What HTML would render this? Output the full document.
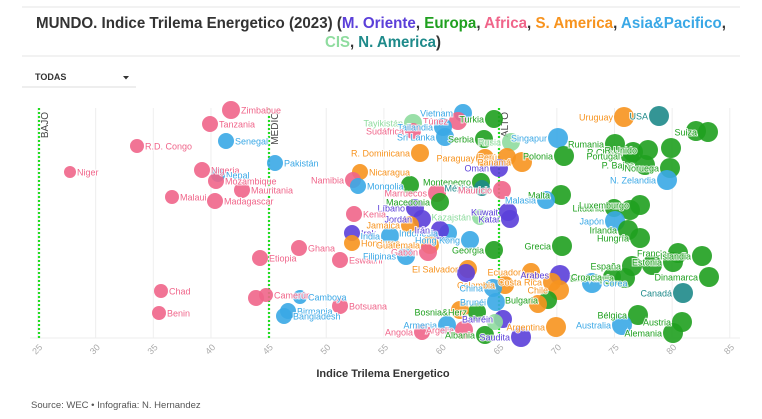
<!DOCTYPE html>
<html><head><meta charset="utf-8">
<style>
body{margin:0;background:#fff;width:762px;height:419px;overflow:hidden;font-family:"Liberation Sans",sans-serif}
svg{position:absolute;left:0;top:0}
</style></head><body>
<svg id="s" width="762" height="419" xmlns="http://www.w3.org/2000/svg" font-family="Liberation Sans, sans-serif">
<line x1="22" y1="7" x2="740" y2="7" stroke="#e6e6e6"/>
<line x1="22" y1="56" x2="740" y2="56" stroke="#e6e6e6"/>
<text x="381" y="28" text-anchor="middle" font-size="16" font-weight="bold" fill="#333" textLength="690" lengthAdjust="spacingAndGlyphs">MUNDO. Indice Trilema Energetico (2023) (<tspan fill="#5b3fd9">M. Oriente</tspan>, <tspan fill="#1fa01f">Europa</tspan>, <tspan fill="#f0658a">Africa</tspan>, <tspan fill="#f7931e">S. America</tspan>, <tspan fill="#3aa8e6">Asia&amp;Pacifico</tspan>,</text>
<text x="383" y="47" text-anchor="middle" font-size="16" font-weight="bold" fill="#333" textLength="116" lengthAdjust="spacingAndGlyphs"><tspan fill="#8fdc9f">CIS</tspan>, <tspan fill="#1e8a8a">N. America</tspan>)</text>
<text x="35" y="80" font-size="9" font-weight="bold" fill="#333">TODAS</text>
<path d="M123 76 h6 l-3 3.5z" fill="#333"/>
<line x1="22" y1="87" x2="136" y2="87" stroke="#ddd"/>
<g id="grid"></g>
<g id="pts"></g>
<text x="383" y="377" text-anchor="middle" font-size="11" font-weight="bold" fill="#333">Indice Trilema Energetico</text>
<text x="31" y="408" font-size="9.5" fill="#555">Source: WEC • Infografia: N. Hernandez</text>
</svg>
<script>
var NS="http://www.w3.org/2000/svg";
function el(t,a,p,txt){var e=document.createElementNS(NS,t);for(var k in a)e.setAttribute(k,a[k]);if(txt)e.textContent=txt;p.appendChild(e);return e;}
var g=document.getElementById('grid');
for(var v=25;v<=85;v+=5){var x=38+(v-25)*11.53;
 el('line',{x1:x,y1:108,x2:x,y2:338,stroke:'#eee'},g);
 el('text',{x:x,y:352,'font-size':9,fill:'#aaa','text-anchor':'middle',transform:'rotate(-45 '+x+' 350)'},g,String(v));}
el('line',{x1:30,y1:338,x2:740,y2:338,stroke:'#eee'},g);
[[39,'BAJO'],[269,'MEDIO'],[499,'ALTO']].forEach(function(d){
 el('line',{x1:d[0],y1:108,x2:d[0],y2:338,stroke:'#22dd22','stroke-width':2.2,'stroke-dasharray':'2,2'},g);
 el('text',{x:d[0]+9,y:112,'font-size':10,fill:'#444','text-anchor':'end',transform:'rotate(-90 '+(d[0]+9)+' 112)'},g,d[1]);});
var C={O:'#5b3fd9',E:'#1fa01f',A:'#f0658a',S:'#f7931e',P:'#3aa8e6',C:'#8fdc9f',N:'#1e8a8a'};
var D=[
[231,110,'A','Zimbabue','r',8],[210,124,'A','Tanzania','r',7],[226,141,'P','Senegal','r',7],[137,146,'A','R.D. Congo','r',6],[70,172,'A','Niger','r',5],
[202,170,'A','Nigeria','r',7],[218,175,'P','Nepal','r',6],[216,181,'A','Mozambique','r',7],[242,190,'A','Mauritania','r',7],[172,197,'A','Malaui','r',6],
[215,201,'A','Madagascar','r',7],[275,163,'P','Pakistán','r',7],[299,248,'A','Ghana','r',7],[260,258,'A','Etiopia','r',7],[340,260,'A','Eswatini','r',7],
[161,291,'A','Chad','r',6],[159,313,'A','Benin','r',6],[256,298,'A','','r',7],[266,295,'A','Camerún','r',6],[300,297,'P','Camboya','r',6],
[288,311,'P','Birmania','r',7],[284,316,'P','Bangladesh','r',7],[340,306,'A','Botsuana','r',7],
[463,113,'P','Vietnam','l',8],[494,119,'E','Turkia','l',8],[413,123,'C','Tayikistán','l',8],[458,121,'A','Túnez','l',8],[443,127,'P','Tailandia','l',8],
[413,131,'A','Sudáfrica','l',7],[445,137,'P','Sri Lanka','l',8],[484,139,'E','Serbia','l',8],[511,142,'C','Rusia','l',8],[558,138,'P','Singapur','l',9],
[564,156,'E','Polonia','l',9],[420,153,'S','R. Dominicana','l',8],[485,158,'S','Paraguay','l',8],[507,157,'S','Perú','l',8],[522,162,'S','Panamá','l',9],
[499,168,'O','Oman','l',8],[360,172,'S','Nicaragua','r',7],[353,180,'A','Namibia','l',7],[358,186,'P','Mongolia','r',7],[410,185,'E','','l',8],
[481,182,'E','Montenegro','l',8],[482,188,'N','México','l',7],[502,190,'A','Mauricio','l',8],[437,193,'A','Marruecos','l',8],[561,195,'E','Malta','l',9],
[546,200,'P','Malasia','l',8],[440,202,'E','Macedonia','l',8],[415,208,'O','Líbano','l',8],[354,214,'A','Kenia','r',7],[508,212,'O','Kuwait','l',8],
[510,219,'O','Katar','l',8],[480,217,'C','Kazajstán','l',7],[422,219,'O','Jordán','l',8],[410,225,'S','Jamaica','l',8],[352,233,'O','Irak','r',7],
[390,236,'P','India','l',8],[448,233,'P','Indonesia','l',8],[440,230,'O','Irán','l',8],[470,240,'P','Hong Kong','l',8],[352,243,'S','Honduras','r',7],
[430,245,'S','Guatemala','l',8],[494,250,'E','Georgia','l',8],[562,246,'E','Grecia','l',9],[428,252,'A','Gabón','l',8],[406,256,'P','Filipinas','l',8],
[468,269,'S','El Salvador','l',8],[466,273,'O','','l',8],[531,272,'S','Ecuador','l',8],[560,275,'O','Arabes','l',9],[552,282,'S','Costa Rica','l',8],
[505,285,'S','Colombia','l',8],[493,288,'P','China','l',8],[559,290,'S','Chile','l',9],[496,302,'P','Brunéi','l',8],[548,300,'E','Bulgaria','l',8],
[538,304,'S','','l',8],[477,312,'E','Bosnia&Herz','l',8],[460,310,'S','','l',8],[503,319,'O','Bahréin','l',8],[447,325,'P','Armenia','l',8],
[422,332,'A','Angola','l',7],[464,330,'A','Argelia','l',8],[485,335,'E','Albania','l',8],[521,337,'O','Saudita','l',9],[556,327,'S','Argentina','l',9],[495,322,'C','','l',7],
[624,117,'S','Uruguay','l',9],[659,116,'N','USA','l',9],[696,131,'E','','l',9],[708,132,'E','Suiza','l',9],[615,144,'E','Rumania','l',9],
[633,152,'E','R.Checa','l',9],[648,150,'E','R.Unido','l',9],[671,148,'E','','l',9],[630,156,'E','Portugal','l',8],[645,165,'E','P. Bajos','l',9],
[670,168,'E','Noruega','l',9],[667,180,'P','N. Zelandia','l',9],[614,208,'E','Lituania','l',8],[640,205,'E','Luxemburgo','l',9],[630,210,'E','','l',9],
[615,221,'P','Japón','l',9],[628,230,'E','Irlanda','l',9],[640,238,'E','Hungría','l',9],[678,253,'E','Francia','l',9],[702,256,'E','Islandia','l',9],
[673,262,'E','Estonia','l',9],[652,265,'E','','l',9],[632,266,'E','España','l',9],[625,278,'E','Eslovaquia','l',9],[592,283,'P','Corea','r',9],
[709,277,'E','Dinamarca','l',9],[683,293,'N','Canadá','l',9],[638,315,'E','Bélgica','l',9],[682,322,'E','Austria','l',9],[622,325,'P','Australia','l',9],
[673,333,'E','Alemania','l',9],[612,277,'E','Croacia','l',8]
];
var p=document.getElementById('pts');
D.forEach(function(d){el('circle',{cx:d[0],cy:d[1],r:d[5]+1,fill:C[d[2]],'fill-opacity':0.9},p);});
D.forEach(function(d){if(!d[3])return;var r=d[5]+2;
 el('text',{x:d[4]=='r'?d[0]+r:d[0]-r,y:d[1]+3.5,'font-size':9,fill:C[d[2]],'text-anchor':d[4]=='r'?'start':'end',
 stroke:'#fff','stroke-width':2,'paint-order':'stroke','stroke-opacity':0.8},p,d[3]);});
</script>
</body></html>
